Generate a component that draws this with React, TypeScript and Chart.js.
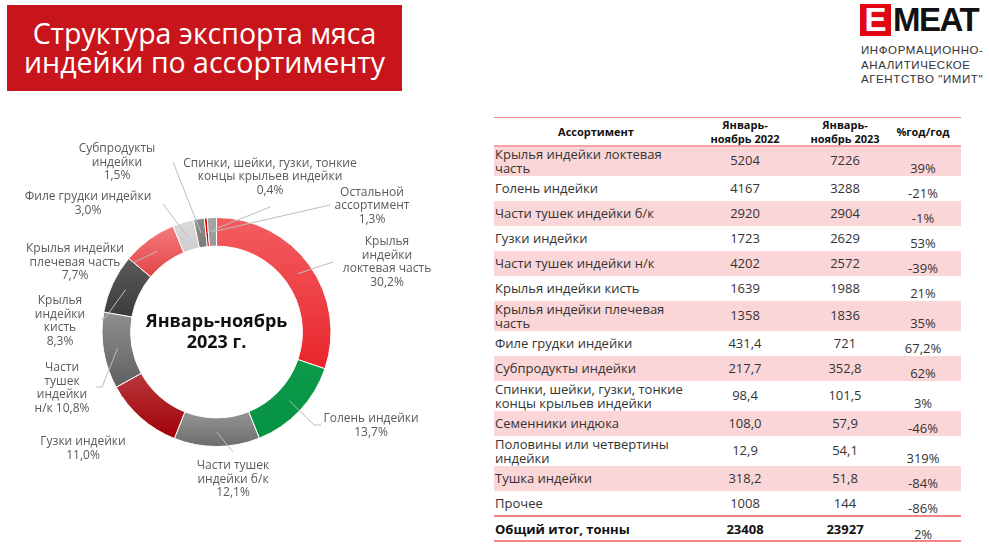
import React, { useEffect, useRef } from "react";
import { Chart, registerables } from "chart.js";

Chart.register(...registerables);

// ---------- donut data ----------
const categories = [
  "Крылья индейки локтевая часть",
  "Голень индейки",
  "Части тушек индейки б/к",
  "Гузки индейки",
  "Части тушек индейки н/к",
  "Крылья индейки кисть",
  "Крылья индейки плечевая часть",
  "Филе грудки индейки",
  "Субпродукты индейки",
  "Спинки, шейки, гузки, тонкие концы крыльев индейки",
  "Остальной ассортимент",
];
const shares = [30.2, 13.7, 12.1, 11.0, 10.8, 8.3, 7.7, 3.0, 1.5, 0.4, 1.3];

// ---------- table data ----------
const tableNames = [
  "Крылья индейки локтевая часть",
  "Голень индейки",
  "Части тушек индейки б/к",
  "Гузки индейки",
  "Части тушек индейки н/к",
  "Крылья индейки кисть",
  "Крылья индейки плечевая часть",
  "Филе грудки индейки",
  "Субпродукты индейки",
  "Спинки, шейки, гузки, тонкие концы крыльев индейки",
  "Семенники индюка",
  "Половины или четвертины индейки",
  "Тушка индейки",
  "Прочее",
];
const vol2022 = ["5204", "4167", "2920", "1723", "4202", "1639", "1358", "431,4", "217,7", "98,4", "108,0", "12,9", "318,2", "1008"];
const vol2023 = ["7226", "3288", "2904", "2629", "2572", "1988", "1836", "721", "352,8", "101,5", "57,9", "54,1", "51,8", "144"];
const yoy = ["39%", "-21%", "-1%", "53%", "-39%", "21%", "35%", "67,2%", "62%", "3%", "-46%", "319%", "-84%", "-86%"];
const totalLabel = "Общий итог, тонны";
const total2022 = "23408";
const total2023 = "23927";
const totalYoy = "2%";

// ---------- styles / layout ----------
const gradTop = ["#f35e61", "#0a9a48", "#959595", "#b9393c", "#8f8f8f", "#5b5b5b", "#f57b7c", "#dadada", "#8d8d8d", "#e00000", "#a6a6a6"];
const gradBottom = ["#e8252b", "#079244", "#6c6c6c", "#a00006", "#5f6062", "#3b3b3b", "#e24448", "#cdcdcd", "#7b7b7b", "#cc0000", "#979797"];

// label line templates ({p} = percent), label centre x, first line centre y
const labelLines = [
  ["Крылья", "индейки", "локтевая часть", "{p}"],
  ["Голень индейки", "{p}"],
  ["Части тушек", "индейки б/к", "{p}"],
  ["Гузки индейки", "{p}"],
  ["Части", "тушек", "индейки", "н/к {p}"],
  ["Крылья", "индейки", "кисть", "{p}"],
  ["Крылья индейки", "плечевая часть", "{p}"],
  ["Филе грудки индейки", "{p}"],
  ["Субпродукты", "индейки", "{p}"],
  ["Спинки, шейки, гузки, тонкие", "концы крыльев индейки", "{p}"],
  ["Остальной", "ассортимент", "{p}"],
];
const labelPos = [
  [387, 242], [371, 419], [233, 466], [83, 442], [62, 368], [60, 301],
  [75, 249], [88, 197], [117, 149], [270, 163.5], [372, 192.5],
];
const leaderPts: number[][][] = [
  [[333, 262]],
  [[314, 425], [321, 425]],
  [[233, 452]],
  [],
  [[102, 387], [96, 387]],
  [[105, 318], [101, 319]],
  [[133, 263]],
  [[163, 204]],
  [[173, 162]],
  [[270, 207]],
  [[330, 205]],
];

const LABEL_FONT = '12px "Open Sans"';
const fmtPct = (v: number) => v.toFixed(1).replace(".", ",") + "%";

const gradientPlugin = {
  id: "arcGradients",
  beforeDatasetsDraw(chart: any) {
    const ctx = chart.ctx;
    const meta = chart.getDatasetMeta(0);
    meta.data.forEach((arc: any, i: number) => {
      const { y, startAngle, endAngle, innerRadius, outerRadius } = arc.getProps(
        ["x", "y", "startAngle", "endAngle", "innerRadius", "outerRadius"],
        true
      );
      let minY = Infinity;
      let maxY = -Infinity;
      for (let k = 0; k <= 24; k++) {
        const a = startAngle + ((endAngle - startAngle) * k) / 24;
        for (const r of [innerRadius, outerRadius]) {
          const yy = y + r * Math.sin(a);
          minY = Math.min(minY, yy);
          maxY = Math.max(maxY, yy);
        }
      }
      if (maxY - minY < 1) maxY = minY + 1;
      const g = ctx.createLinearGradient(0, minY, 0, maxY);
      g.addColorStop(0, gradTop[i]);
      g.addColorStop(1, gradBottom[i]);
      try {
        arc.options.backgroundColor = g;
      } catch (e) {
        /* keep solid */
      }
    });
  },
};

const labelPlugin = {
  id: "donutLabels",
  afterDatasetsDraw(chart: any) {
    const ctx = chart.ctx;
    const meta = chart.getDatasetMeta(0);
    ctx.save();
    ctx.strokeStyle = "#bdbdbd";
    ctx.lineWidth = 1;
    meta.data.forEach((arc: any, i: number) => {
      const pts = leaderPts[i];
      if (!pts || !pts.length) return;
      const { x, y, startAngle, endAngle, innerRadius, outerRadius } = arc.getProps(
        ["x", "y", "startAngle", "endAngle", "innerRadius", "outerRadius"],
        true
      );
      const mid = (startAngle + endAngle) / 2;
      const r = (innerRadius + outerRadius) / 2;
      ctx.beginPath();
      ctx.moveTo(x + r * Math.cos(mid), y + r * Math.sin(mid));
      pts.forEach((p) => ctx.lineTo(p[0], p[1]));
      ctx.stroke();
    });
    ctx.font = LABEL_FONT;
    ctx.fillStyle = "#5a5a5a";
    ctx.textAlign = "center";
    ctx.textBaseline = "middle";
    const data = chart.data.datasets[0].data as number[];
    labelLines.forEach((lines, i) => {
      const [cx, cy] = labelPos[i];
      lines.forEach((ln, j) => {
        ctx.fillText(ln.replace("{p}", fmtPct(data[i])), cx, cy + j * 13.5);
      });
    });
    const c = meta.data[0];
    ctx.font = 'bold 18px "Open Sans"';
    ctx.fillStyle = "#111111";
    ctx.fillText("Январь-ноябрь", c.x, c.y - 10);
    ctx.fillText("2023 г.", c.x, c.y + 11);
    ctx.restore();
  },
};

function Donut() {
  const ref = useRef<HTMLCanvasElement>(null);
  useEffect(() => {
    if (!ref.current) return;
    const chart = new Chart(ref.current, {
      type: "doughnut",
      data: {
        labels: categories,
        datasets: [
          {
            data: shares,
            backgroundColor: (c: any) => gradBottom[c.dataIndex],
            borderColor: "#ffffff",
            borderWidth: 1,
          },
        ],
      },
      options: {
        responsive: false,
        devicePixelRatio: 1,
        animation: false,
        cutout: "75%",
        layout: { padding: { left: 101.5, right: 148.5, top: 217, bottom: 105 } },
        plugins: { legend: { display: false }, tooltip: { enabled: false } },
        events: [],
      },
      plugins: [gradientPlugin, labelPlugin],
    } as any);
    return () => chart.destroy();
  }, []);
  return (
    <canvas
      ref={ref}
      width={480}
      height={552}
      style={{ position: "absolute", left: 0, top: 0, width: 480, height: 552 }}
    />
  );
}

const rowHeights = [30, 25, 25, 25, 25, 25, 30, 25, 25, 30, 25, 30, 25, 25];
const TABLE_LEFT = 494;
const TABLE_W = 467;
const COL2 = 745;
const COL3 = 845;
const COL4 = 923;
const FONT = '"Open Sans", sans-serif';

function Table() {
  let y = 146;
  const rows = tableNames.map((name, i) => {
    const h = rowHeights[i];
    const top = y;
    y += h;
    const two = h > 26;
    return (
      <div
        key={i}
        style={{
          position: "absolute",
          left: TABLE_LEFT,
          top,
          width: TABLE_W,
          height: h,
          background: i % 2 === 0 ? "#fbd6d8" : "#ffffff",
          fontSize: 13,
          color: "#333",
        }}
      >
        <div
          style={{
            position: "absolute",
            left: 1,
            top: two ? 1 : 4,
            width: 198,
            lineHeight: two ? "14.3px" : "17px",
          }}
        >
          {name}
        </div>
        <div style={{ position: "absolute", left: COL2 - TABLE_LEFT - 40, width: 80, textAlign: "center", top: h / 2 - 9, lineHeight: "17px" }}>
          {vol2022[i]}
        </div>
        <div style={{ position: "absolute", left: COL3 - TABLE_LEFT - 40, width: 80, textAlign: "center", top: h / 2 - 9, lineHeight: "17px" }}>
          {vol2023[i]}
        </div>
        <div style={{ position: "absolute", left: COL4 - TABLE_LEFT - 40, width: 80, textAlign: "center", top: h - 16, lineHeight: "17px" }}>
          {yoy[i]}
        </div>
      </div>
    );
  });
  const totTop = y;
  return (
    <div style={{ fontFamily: FONT }}>
      <div style={{ position: "absolute", left: TABLE_LEFT, top: 116.5, width: TABLE_W, height: 1.5, background: "#f08486" }} />
      <div style={{ position: "absolute", left: TABLE_LEFT, top: 118, width: TABLE_W, height: 28, fontWeight: 700, fontSize: 11, color: "#111" }}>
        <div style={{ position: "absolute", left: 596 - TABLE_LEFT - 60, width: 120, textAlign: "center", top: 6 }}>Ассортимент</div>
        <div style={{ position: "absolute", left: COL2 - TABLE_LEFT - 60, width: 120, textAlign: "center", top: 0, lineHeight: "14px" }}>
          Январь-
          <br />
          ноябрь 2022
        </div>
        <div style={{ position: "absolute", left: COL3 - TABLE_LEFT - 60, width: 120, textAlign: "center", top: 0, lineHeight: "14px" }}>
          Январь-
          <br />
          ноябрь 2023
        </div>
        <div style={{ position: "absolute", left: COL4 - TABLE_LEFT - 40, width: 80, textAlign: "center", top: 6 }}>%год/год</div>
      </div>
      {rows}
      <div style={{ position: "absolute", left: TABLE_LEFT, top: 145, width: TABLE_W, height: 1.5, background: "#f4a3a5" }} />
      <div style={{ position: "absolute", left: TABLE_LEFT, top: totTop - 1, width: TABLE_W, height: 2, background: "#f08486" }} />
      <div style={{ position: "absolute", left: TABLE_LEFT, top: totTop + 1, width: TABLE_W, height: 23, fontSize: 13, color: "#111" }}>
        <div style={{ position: "absolute", left: 1, top: 3, fontWeight: 700 }}>{totalLabel}</div>
        <div style={{ position: "absolute", left: COL2 - TABLE_LEFT - 40, width: 80, textAlign: "center", top: 3, fontWeight: 700 }}>{total2022}</div>
        <div style={{ position: "absolute", left: COL3 - TABLE_LEFT - 40, width: 80, textAlign: "center", top: 3, fontWeight: 700 }}>{total2023}</div>
        <div style={{ position: "absolute", left: COL4 - TABLE_LEFT - 40, width: 80, textAlign: "center", top: 8, color: "#333" }}>{totalYoy}</div>
      </div>
      <div style={{ position: "absolute", left: TABLE_LEFT, top: totTop + 24, width: TABLE_W, height: 2, background: "#f08486" }} />
    </div>
  );
}

export default function App() {
  return (
    <div style={{ position: "absolute", left: 0, top: 0, width: 989, height: 552, background: "#fff", overflow: "hidden", fontFamily: FONT }}>
      <Donut />
      <div
        style={{
          position: "absolute",
          left: 7,
          top: 5,
          width: 395,
          height: 86,
          background: "#c8151b",
          color: "#fff",
          fontSize: 28.5,
          lineHeight: "29px",
          textAlign: "center",
          paddingTop: 14,
          boxSizing: "border-box",
        }}
      >
        Структура экспорта мяса
        <br />
        индейки по ассортименту
      </div>
      <div style={{ position: "absolute", left: 860, top: 4, width: 31, height: 32, background: "#e30613", color: "#fff", fontFamily: '"Liberation Sans", Arial, sans-serif', fontWeight: 700, fontSize: 33, lineHeight: "32px", textAlign: "center" }}>
        E
      </div>
      <div style={{ position: "absolute", left: 893, top: 4, height: 32, color: "#111", fontFamily: '"Liberation Sans", Arial, sans-serif', fontWeight: 700, fontSize: 33, lineHeight: "32px", letterSpacing: -1.5 }}>
        MEAT
      </div>
      <div style={{ position: "absolute", left: 861, top: 43, color: "#333", fontFamily: '"Liberation Sans", Arial, sans-serif', fontSize: 11.5, lineHeight: "14.7px", letterSpacing: 0.6 }}>
        ИНФОРМАЦИОННО-
        <br />
        АНАЛИТИЧЕСКОЕ
        <br />
        АГЕНТСТВО "ИМИТ"
      </div>
      <Table />
    </div>
  );
}
